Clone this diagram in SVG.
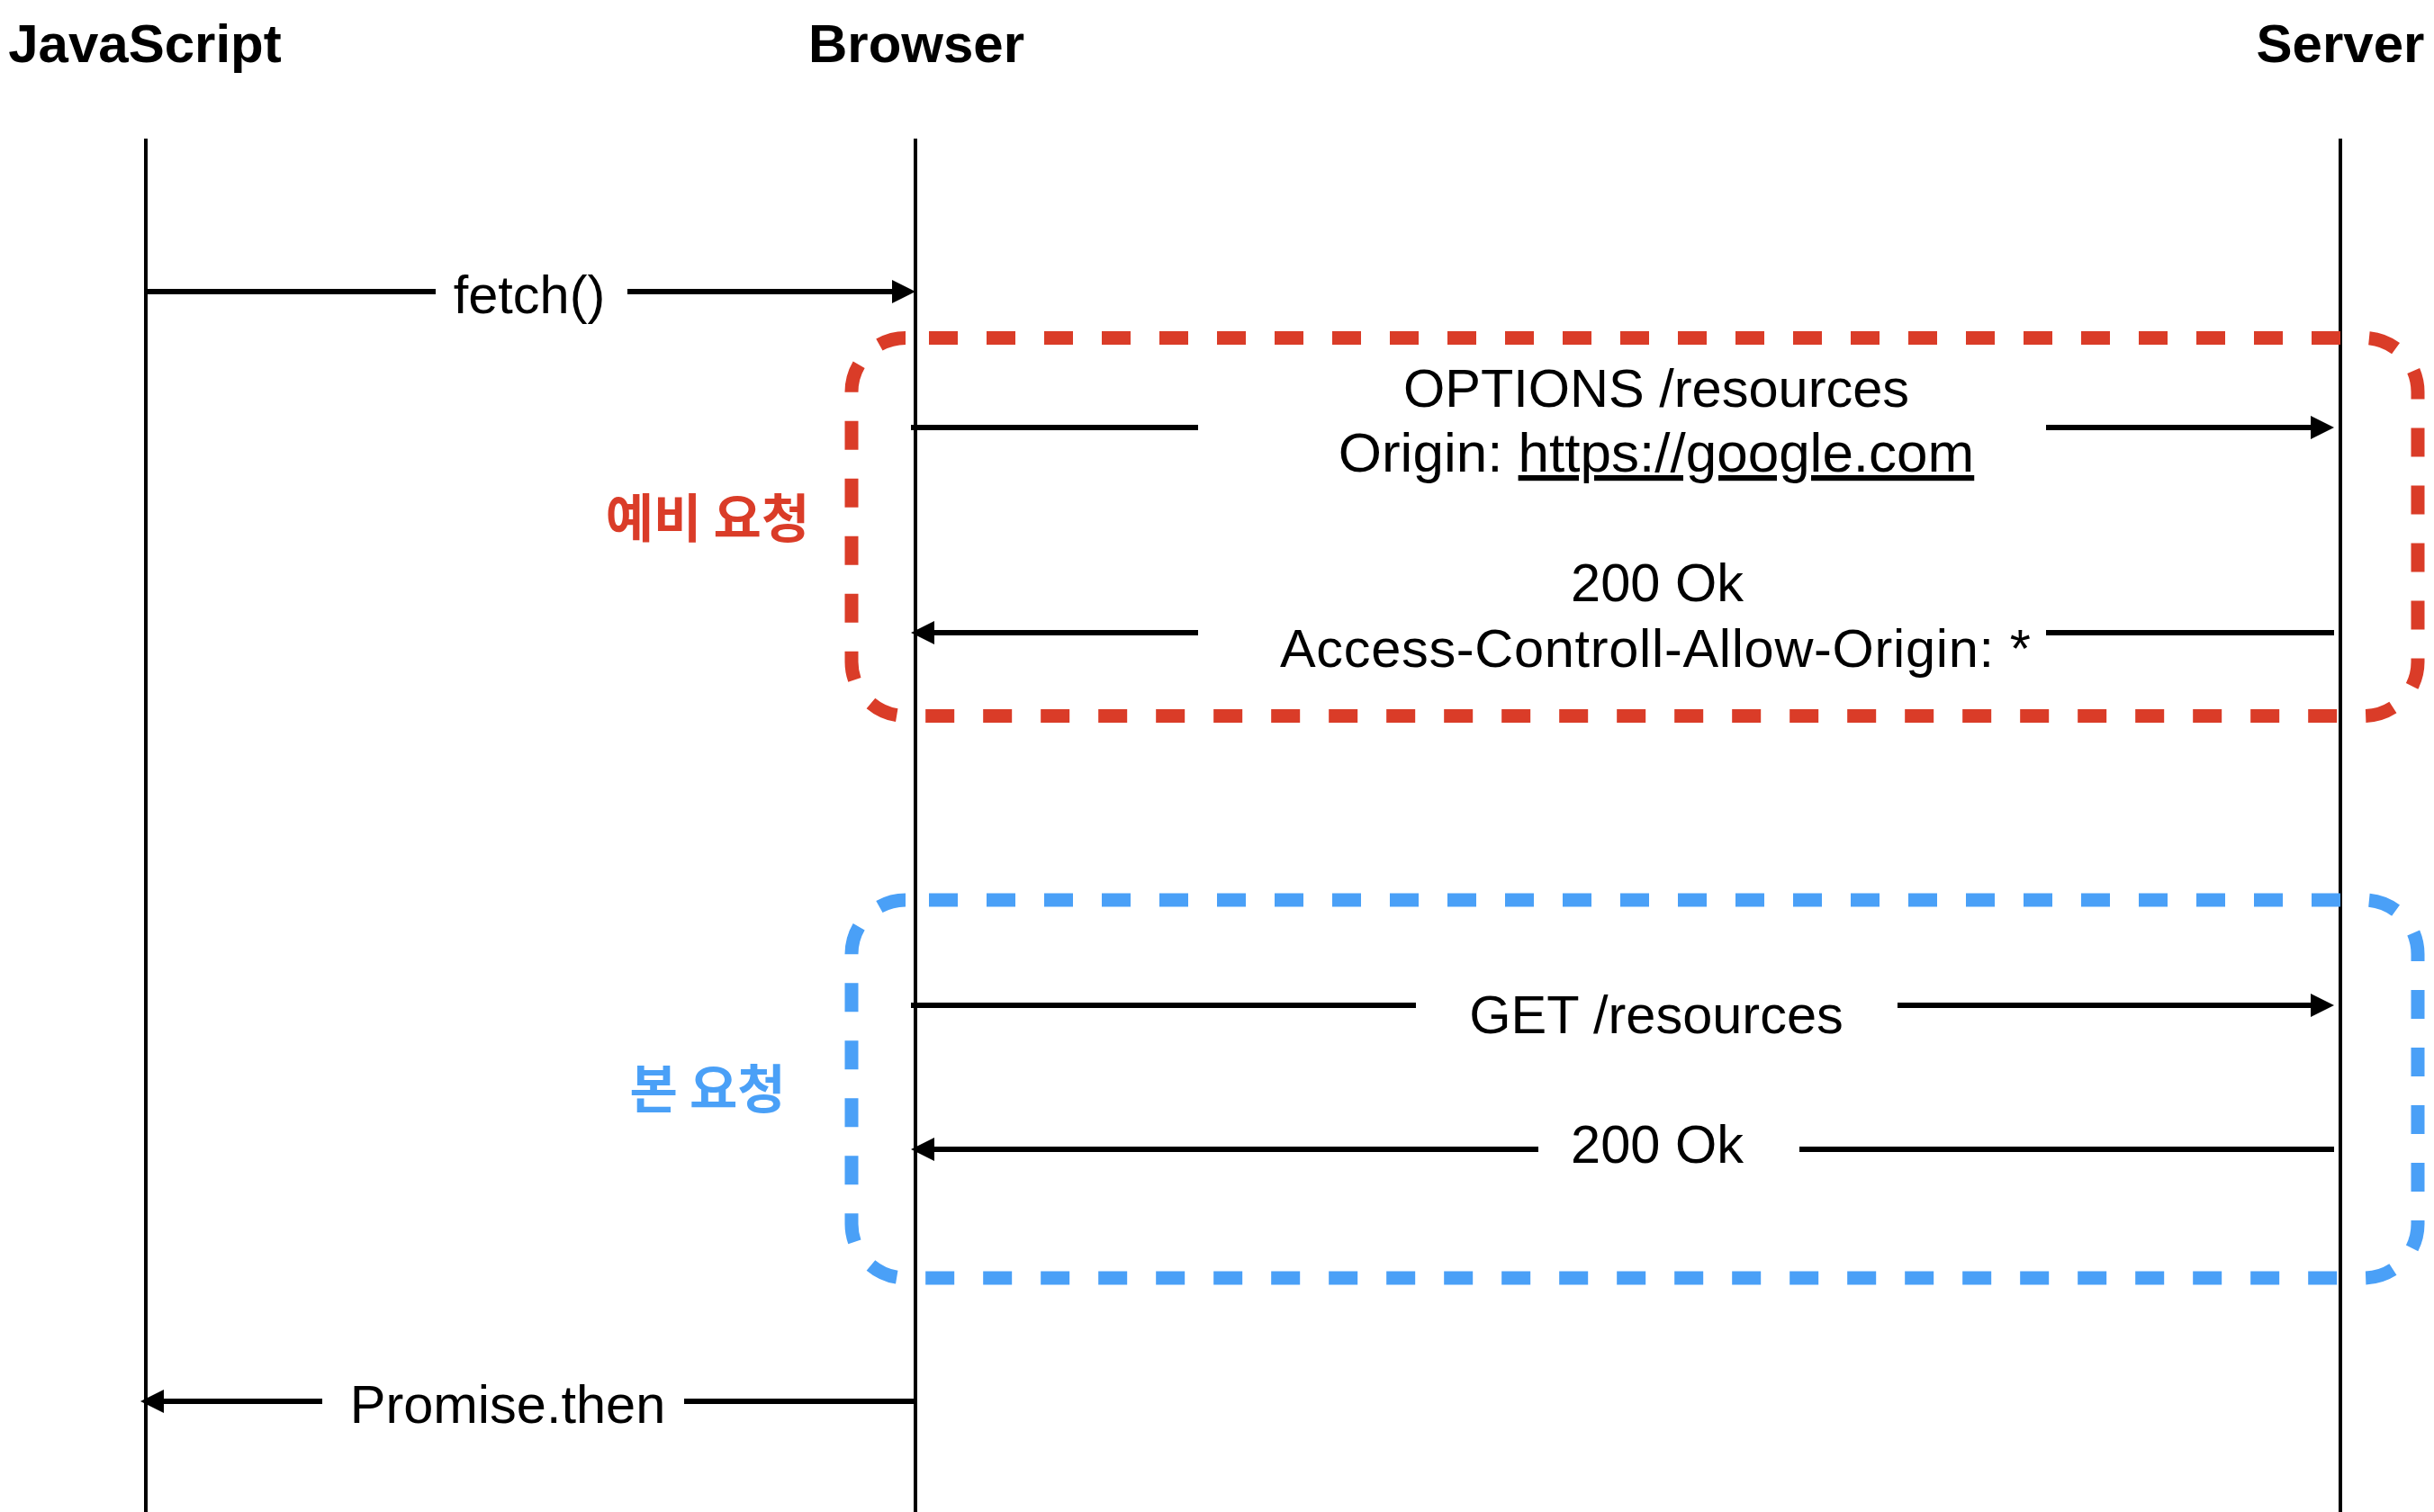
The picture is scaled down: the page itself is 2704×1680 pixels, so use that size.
<svg xmlns="http://www.w3.org/2000/svg" width="2704" height="1680" viewBox="0 0 2704 1680">
  <style>
    .hdr { font-family: "Liberation Sans", Arial, Helvetica, sans-serif; font-weight: bold; font-size: 60px; fill: #000; text-anchor: middle; }
    .lbl { font-family: "Liberation Sans", Arial, Helvetica, sans-serif; font-size: 59.5px; fill: #000; text-anchor: middle; }
    .kr { font-family: "Noto Sans CJK KR", "Noto Sans", sans-serif; font-weight: bold; font-size: 58px; text-anchor: middle; }
    .life { stroke: #000; stroke-width: 4; fill: none; }
    .msg { stroke: #000; stroke-width: 6; fill: none; }
    .arr { marker-end: url(#ah); }
    .box { fill: none; stroke-width: 15; stroke-dasharray: 32 32; stroke-dashoffset: 38; }
  </style>
  <defs>
    <marker id="ah" markerUnits="userSpaceOnUse" markerWidth="27" markerHeight="27" refX="6" refY="13" orient="auto" overflow="visible">
      <path d="M0,0 L26,13 L0,26 Z" fill="#000"/>
    </marker>
  </defs>
  <rect width="2704" height="1680" fill="#fff"/>

  <g id="javascript">
    <text class="hdr" x="161" y="69">JavaScript</text>
    <line class="life" x1="162" y1="154" x2="162" y2="1680"/>
  </g>
  <g id="browser">
    <text class="hdr" x="1018" y="69">Browser</text>
    <line class="life" x1="1017" y1="154" x2="1017" y2="1680"/>
  </g>
  <g id="server">
    <text class="hdr" x="2600" y="69">Server</text>
    <line class="life" x1="2600" y1="154" x2="2600" y2="1680"/>
  </g>

  <g id="preflight">
    <rect class="box" x="946" y="375.5" width="1740" height="420" rx="60" ry="60" stroke="#DA3C28"/>
    <text class="kr" x="786" y="597" fill="#DA3C28">예비 요청</text>
  </g>
  <g id="main-request">
    <rect class="box" x="946" y="1000" width="1740" height="420" rx="60" ry="60" stroke="#4AA0F7"/>
    <text class="kr" x="786" y="1231" fill="#4AA0F7">본 요청</text>
  </g>

  <g id="connectors">
    <g id="msg-fetch">
      <path class="msg" d="M162,324 H484"/>
      <path class="msg arr" d="M697,324 H997"/>
      <text class="lbl" x="588" y="348">fetch()</text>
    </g>
    <g id="msg-options">
      <path class="msg" d="M1012,475 H1331"/>
      <path class="msg arr" d="M2273,475 H2573"/>
      <text class="lbl" x="1840" y="452">OPTIONS /resources</text>
      <text class="lbl" x="1840" y="524" style="font-size:62px">Origin: <tspan text-decoration="underline">https://google.com</tspan></text>
    </g>
    <g id="msg-preflight-response">
      <path class="msg" d="M2593,703 H2273"/>
      <path class="msg arr" d="M1331,703 H1032"/>
      <text class="lbl" x="1841" y="668">200 Ok</text>
      <text class="lbl" x="1839" y="741" textLength="834" lengthAdjust="spacing">Access-Controll-Allow-Origin: *</text>
    </g>
    <g id="msg-get">
      <path class="msg" d="M1012,1117 H1573"/>
      <path class="msg arr" d="M2108,1117 H2573"/>
      <text class="lbl" x="1840" y="1148">GET /resources</text>
    </g>
    <g id="msg-get-response">
      <path class="msg" d="M2593,1277 H1999"/>
      <path class="msg arr" d="M1709,1277 H1032"/>
      <text class="lbl" x="1841" y="1292">200 Ok</text>
    </g>
    <g id="msg-promise">
      <path class="msg" d="M1018,1557 H760"/>
      <path class="msg arr" d="M358,1557 H176"/>
      <text class="lbl" x="564" y="1581">Promise.then</text>
    </g>
  </g>
</svg>
